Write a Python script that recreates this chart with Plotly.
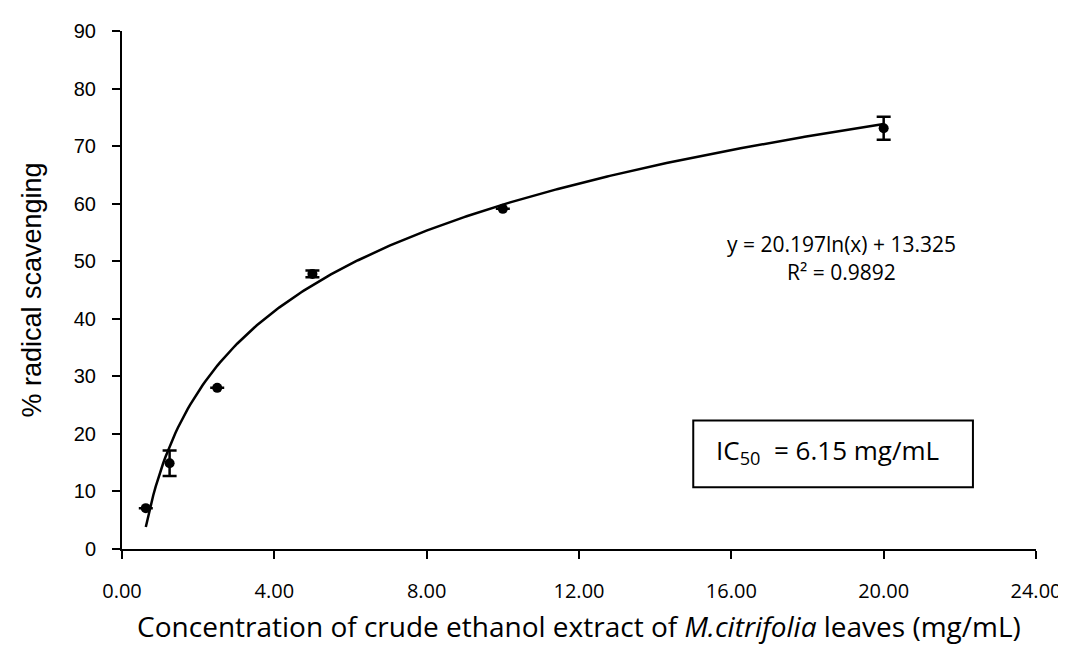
import numpy as np
import plotly.graph_objects as go

conc = [0.625, 1.25, 2.5, 5.0, 10.0, 20.0]
scav = [7.1, 14.9, 28.0, 47.8, 59.1, 73.1]
err = [0.0, 2.2, 0.0, 0.6, 0.0, 2.0]
coef_a, coef_b = 20.197, 13.325
x_ticks = [0, 4, 8, 12, 16, 20, 24]
y_ticks = [0, 10, 20, 30, 40, 50, 60, 70, 80, 90]

FONT = "Open Sans"
ARIAL = "Liberation Sans"
xfit = np.linspace(min(conc), max(conc), 300)
yfit = coef_a * np.log(xfit) + coef_b

fig = go.Figure()
fig.add_trace(go.Scatter(x=xfit, y=yfit, mode="lines",
                         line=dict(color="black", width=2.5), hoverinfo="skip"))
fig.add_trace(go.Scatter(x=conc, y=scav, mode="markers",
                         marker=dict(color="black", size=10),
                         error_y=dict(type="data", array=err, color="black",
                                      thickness=2.5, width=7)))

# page body has an 8px margin: compensate so the plot area lands where the reference has it
fig.update_layout(
    width=1066, height=660, showlegend=False,
    plot_bgcolor="white", paper_bgcolor="white",
    margin=dict(l=114, r=38, t=18, b=119),
    font=dict(family=FONT, color="black", size=15),
    xaxis=dict(range=[0, 24], tickvals=x_ticks, tickformat=".2f",
               showline=True, linecolor="black", linewidth=2, showgrid=False,
               zeroline=False, ticks="outside", ticklen=8, tickwidth=2, tickcolor="black",
               ticklabelstandoff=15,
               title=dict(text="Concentration of crude ethanol extract of <i>M.citrifolia</i> leaves (mg/mL)",
                          font=dict(size=28), standoff=14),
               tickfont=dict(size=20)),
    yaxis=dict(range=[0, 90], tickvals=y_ticks,
               showline=True, linecolor="black", linewidth=2, showgrid=False,
               zeroline=False, ticks="outside", ticklen=8, tickwidth=2, tickcolor="black",
               ticklabelstandoff=12,
               title=dict(text="% radical scavenging", font=dict(size=27, family=ARIAL), standoff=24),
               tickfont=dict(size=20, family=ARIAL)),
)

fig.add_annotation(xref="paper", yref="paper", x=0.787, y=0.589, xanchor="center", yanchor="middle",
                   showarrow=False, text="y = 20.197ln(x) + 13.325", font=dict(size=21))
fig.add_annotation(xref="paper", yref="paper", x=0.787, y=0.534, xanchor="center", yanchor="middle",
                   showarrow=False, text="R² = 0.9892", font=dict(size=21))
fig.add_shape(type="rect", xref="paper", yref="paper", x0=0.625, x1=0.931, y0=0.119, y1=0.248,
              line=dict(color="black", width=2), fillcolor="white")
fig.add_annotation(xref="paper", yref="paper", x=0.772, y=0.19, xanchor="center", yanchor="middle",
                   showarrow=False, text="IC<sub>50</sub>  = 6.15 mg/mL", font=dict(size=26))

fig.write_html("out.html")
